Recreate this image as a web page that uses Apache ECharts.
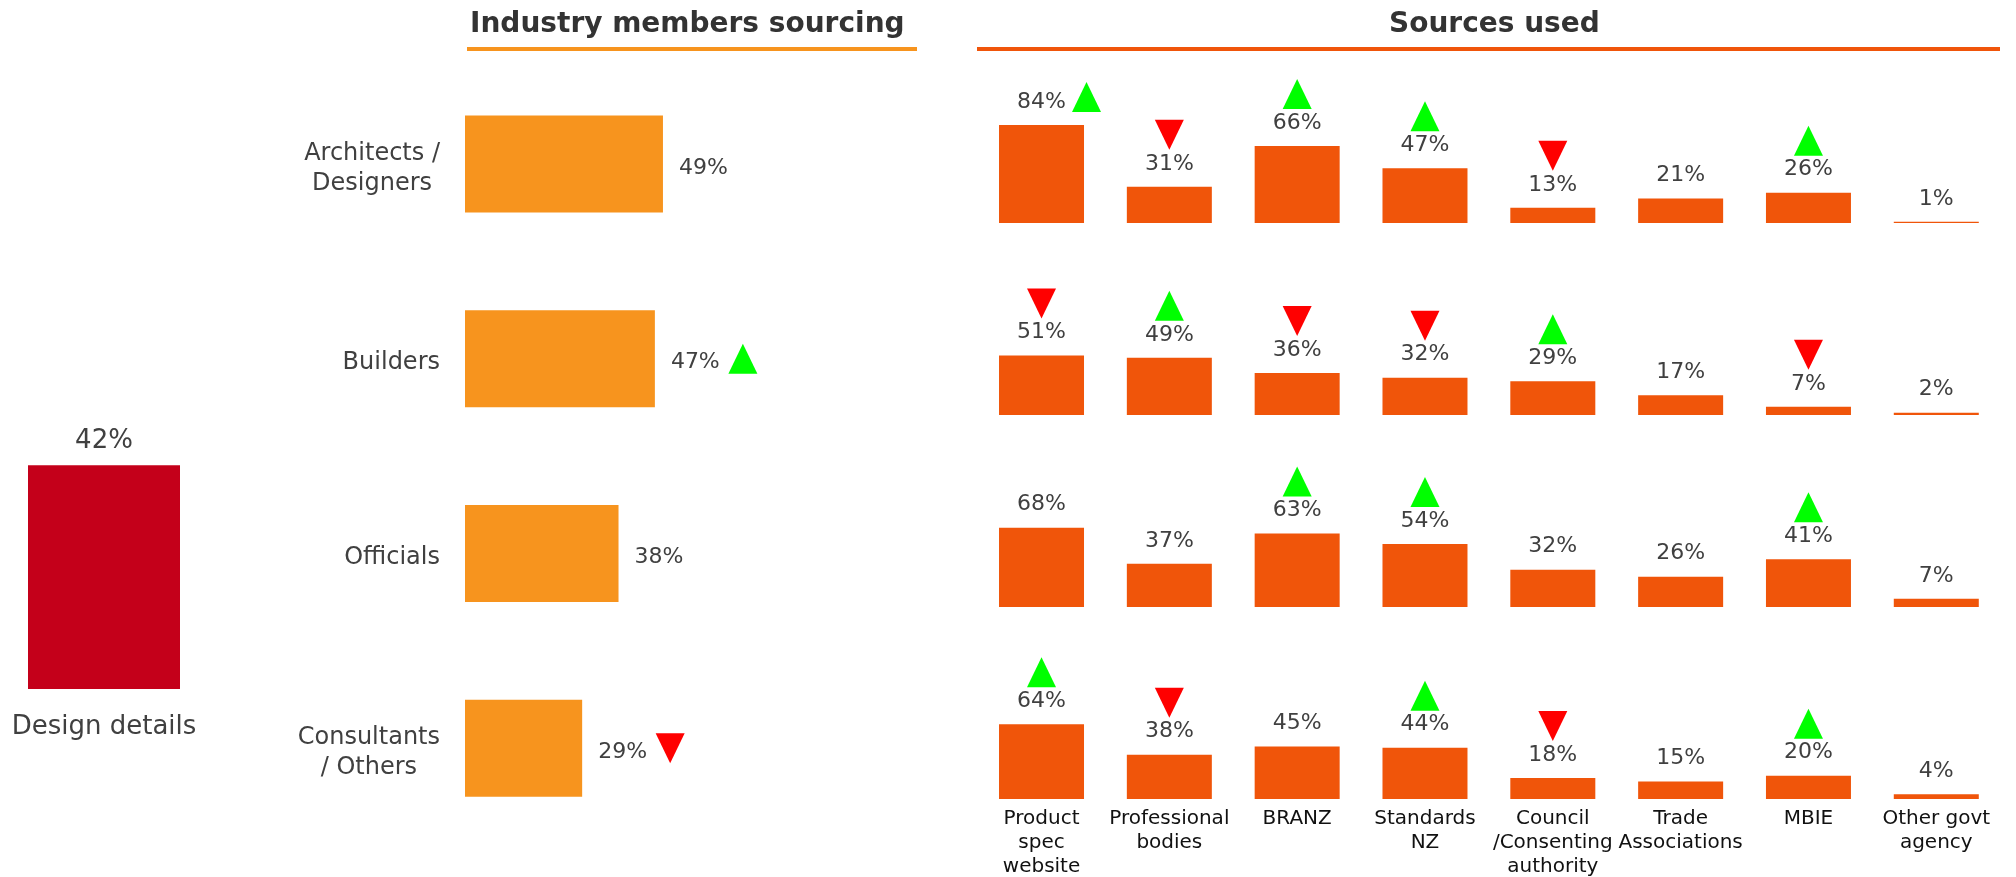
<!DOCTYPE html>
<html>
<head>
<meta charset="utf-8">
<script src="https://cdn.jsdelivr.net/npm/echarts@6/dist/echarts.min.js"></script>
<style>
  html, body { margin: 0; padding: 0; background: #fff; }
  #main { width: 2016px; height: 877px; }
</style>
</head>
<body>
<div id="main"></div>
<script>
// overall share
const designCategory = ['Design details'];
const designValue = [42];

// industry members sourcing
const industryGroups = ['Architects /\nDesigners', 'Builders', 'Officials', 'Consultants\n/ Others'];
const industryValues = [49, 47, 38, 29];
const industryTrend = ['', 'up', '', 'down'];

// sources used, one row per industry group
const sources = ['Product\nspec\nwebsite', 'Professional\nbodies', 'BRANZ', 'Standards\nNZ',
  'Council\n/Consenting\nauthority', 'Trade\nAssociations', 'MBIE', 'Other govt\nagency'];
const architectsSources = [84, 31, 66, 47, 13, 21, 26, 1];
const buildersSources = [51, 49, 36, 32, 29, 17, 7, 2];
const officialsSources = [68, 37, 63, 54, 32, 26, 41, 7];
const consultantsSources = [64, 38, 45, 44, 18, 15, 20, 4];
const architectsTrend = ['up', 'down', 'up', 'up', 'down', '', 'up', ''];
const buildersTrend = ['down', 'up', 'down', 'down', 'up', '', 'down', ''];
const officialsTrend = ['', '', 'up', 'up', '', '', 'up', ''];
const consultantsTrend = ['up', 'down', '', 'up', 'down', '', 'up', ''];

const FONT = 'DejaVu Sans';
const TXT = '#404040';
const UP = '#00FF00';
const DOWN = '#FF0000';
const SRC_COLOR = '#F0550A';
const IND_COLOR = '#F7941E';

const rows = [
  { values: architectsSources, trend: architectsTrend },
  { values: buildersSources, trend: buildersTrend },
  { values: officialsSources, trend: officialsTrend },
  { values: consultantsSources, trend: consultantsTrend }
];
const baselines = [223, 415, 607, 799];
const rowH = 116.7;

const grids = [
  { left: 28, width: 152, top: 156, height: 533 },
  { left: 465, width: 404, top: 66.6, height: 779 }
];
const xAxes = [
  { gridIndex: 0, type: 'category', data: designCategory,
    axisLine: { show: false }, axisTick: { show: false },
    axisLabel: { fontSize: 26, fontFamily: FONT, color: TXT, margin: 25 } },
  { gridIndex: 1, type: 'value', min: 0, max: 100, show: false }
];
const yAxes = [
  { gridIndex: 0, type: 'value', min: 0, max: 100, show: false },
  { gridIndex: 1, type: 'category', data: industryGroups, inverse: true,
    axisLine: { show: false }, axisTick: { show: false },
    axisLabel: {
      margin: 25,
      padding: [9, 0, 0, 0],
      // block is right aligned to the bars, each line centred inside it
      formatter: v => v.split('\n').map(s => '{c|' + s + '}').join('\n'),
      rich: { c: { align: 'center', fontSize: 24, lineHeight: 30, fontFamily: FONT, color: TXT } }
    } }
];
const series = [
  { type: 'bar', xAxisIndex: 0, yAxisIndex: 0, data: designValue, barWidth: 152,
    itemStyle: { color: '#C4001A' },
    label: { show: true, position: 'top', distance: 11, fontSize: 26, fontFamily: FONT,
      color: TXT, formatter: '{c}%' } },
  { type: 'bar', xAxisIndex: 1, yAxisIndex: 1, data: industryValues, barWidth: 97,
    itemStyle: { color: IND_COLOR },
    label: { show: true, position: 'right', distance: 16, offset: [0, 4], fontSize: 22,
      fontFamily: FONT, color: TXT, formatter: '{c}%' } },
  { type: 'scatter', xAxisIndex: 1, yAxisIndex: 1, symbol: 'triangle', symbolSize: [29, 30],
    symbolOffset: [88, 0], silent: true,
    data: industryValues.map((v, i) => ({ v, i, t: industryTrend[i] }))
      .filter(d => d.t)
      .map(d => ({ value: [d.v, d.i], symbolRotate: d.t === 'down' ? 180 : 0,
        itemStyle: { color: d.t === 'down' ? DOWN : UP, opacity: 1 } })) }
];

rows.forEach((row, r) => {
  const gi = r + 2;
  grids.push({ left: 977.6, width: 1022.6, top: baselines[r] - rowH, height: rowH });
  xAxes.push({ gridIndex: gi, type: 'category', data: sources,
    axisLine: { show: false }, axisTick: { show: false },
    axisLabel: { show: r === rows.length - 1, interval: 0, fontSize: 20, lineHeight: 24,
      fontFamily: FONT, color: '#111', margin: 8 } });
  yAxes.push({ gridIndex: gi, type: 'value', min: 0, max: 100, show: false });
  series.push({ type: 'bar', xAxisIndex: gi, yAxisIndex: gi, data: row.values, barWidth: 85,
    itemStyle: { color: SRC_COLOR },
    label: { show: true, position: 'top', distance: 12, fontSize: 22, fontFamily: FONT,
      color: TXT, formatter: '{c}%' } });
  series.push({ type: 'scatter', xAxisIndex: gi, yAxisIndex: gi, symbol: 'triangle',
    symbolSize: [29, 30], silent: true,
    data: row.values.map((v, i) => ({ v, i, t: row.trend[i] }))
      .filter(d => d.t)
      .map(d => ({ value: [d.i, d.v],
        symbolRotate: d.t === 'down' ? 180 : 0,
        // tall bars leave no room above the label, so the arrow sits beside it
        symbolOffset: d.v > 80 ? [45, -28] : [0, -52],
        itemStyle: { color: d.t === 'down' ? DOWN : UP, opacity: 1 } })) });
});

grids.forEach(g => { g.containLabel = false; g.outerBoundsMode = 'none'; });

const chart = echarts.init(document.getElementById('main'));
chart.setOption({
  animation: false,
  title: [
    { text: 'Industry members sourcing', left: 465, top: 6,
      textStyle: { fontSize: 28, fontWeight: 'bold', fontFamily: FONT, color: '#333' } },
    { text: 'Sources used', left: 1384, top: 6,
      textStyle: { fontSize: 28, fontWeight: 'bold', fontFamily: FONT, color: '#333' } }
  ],
  graphic: [
    { type: 'rect', shape: { x: 467, y: 47, width: 450, height: 4 }, style: { fill: IND_COLOR } },
    { type: 'rect', shape: { x: 977, y: 47, width: 1023, height: 4 }, style: { fill: SRC_COLOR } }
  ],
  grid: grids,
  xAxis: xAxes,
  yAxis: yAxes,
  series: series
});
</script>
</body>
</html>
